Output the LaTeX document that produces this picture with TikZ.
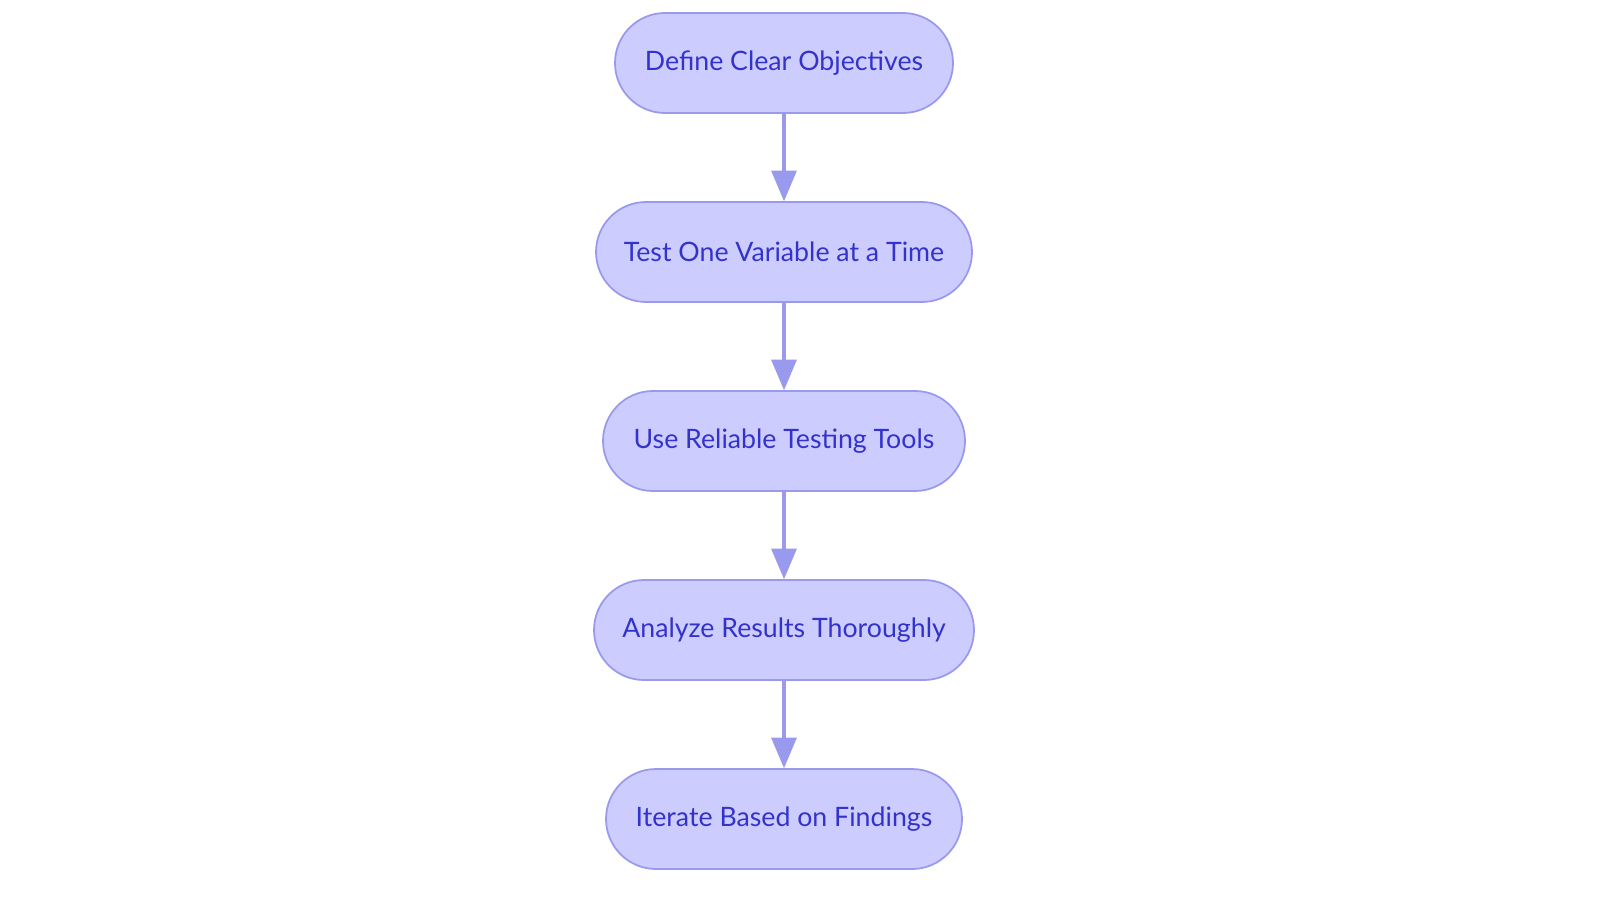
\documentclass[tikz,border=0pt]{standalone}
\usepackage{fontspec}
\setmainfont{Lato}
\usetikzlibrary{shapes,arrows}
\definecolor{stepfill}{HTML}{CCCCFF}
\definecolor{stepdraw}{HTML}{9999EE}
\definecolor{steptext}{HTML}{3333CC}
\begin{document}
\begin{tikzpicture}[node distance = 1.89cm, auto]
        \tikzstyle{stage} = [rectangle, draw=stepdraw, fill=stepfill, text=steptext, rounded corners=0.5cm, minimum height=1cm, inner sep=0pt, font=\fontsize{7.6pt}{9pt}\selectfont, line width=0.5pt]
        \tikzstyle{line} = [draw=stepdraw, line width=1pt, -triangle 45]
    \useasboundingbox (0,0) rectangle (16,9.03);

    \node [stage, minimum width=3.38cm] at (7.84,8.40) (objectives) {Define Clear Objectives};
    \node [stage, below of=objectives, minimum width=3.76cm] (variable) {Test One Variable at a Time};
    \node [stage, below of=variable, minimum width=3.62cm] (tools) {Use Reliable Testing Tools};
    \node [stage, below of=tools, minimum width=3.80cm] (analyze) {Analyze Results Thoroughly};
    \node [stage, below of=analyze, minimum width=3.56cm] (iterate) {Iterate Based on Findings};

    \path [line] (objectives) -- (variable);
    \path [line] (variable) -- (tools);
    \path [line] (tools) -- (analyze);
    \path [line] (analyze) -- (iterate);
\end{tikzpicture}
\end{document}
